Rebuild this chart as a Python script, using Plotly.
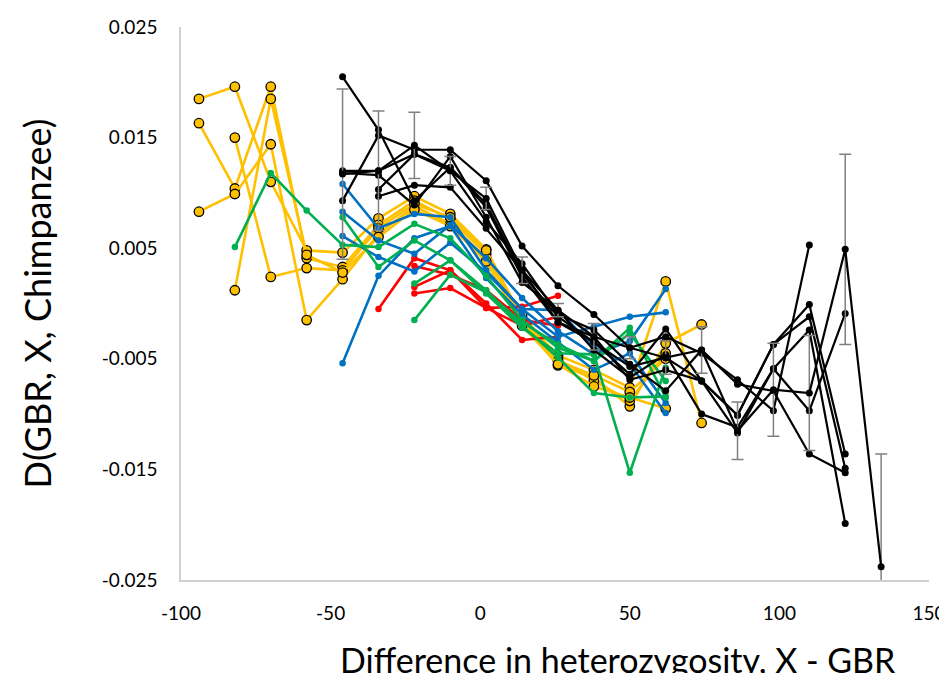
import plotly.graph_objects as go

N = None
# bin centres (difference in heterozygosity, X - GBR)
x_bins = [-94, -82, -70, -58, -46, -34, -22, -10, 2, 14, 26, 38, 50, 62, 74, 86, 98, 110, 122, 134]

yellow_series = [
    [0.0185, 0.0196, 0.0110, 0.0048, 0.0046, 0.0077, 0.0097, 0.0081, 0.0049, -0.0013, -0.0047, -0.0060, -0.0076, 0.0020, -0.0108, N, N, N, N, N],
    [0.0163, 0.0104, 0.0196, 0.0041, 0.0033, 0.0071, 0.0093, 0.0076, 0.0045, -0.0017, -0.0056, -0.0067, -0.0093, -0.0036, -0.0019, N, N, N, N, N],
    [0.0083, 0.0099, 0.0144, -0.0015, 0.0022, 0.0063, 0.0088, 0.0072, 0.0041, -0.0010, -0.0050, -0.0070, -0.0088, -0.0045, N, N, N, N, N, N],
    [N, 0.0150, 0.0024, 0.0032, 0.0030, 0.0068, 0.0090, 0.0078, 0.0048, -0.0015, -0.0052, -0.0065, -0.0080, -0.0050, N, N, N, N, N, N],
    [N, 0.0012, 0.0185, 0.0044, 0.0028, 0.0060, 0.0085, 0.0070, 0.0038, -0.0020, -0.0055, -0.0075, -0.0085, -0.0095, N, N, N, N, N, N],
]

red_series = [
    [N, N, N, N, N, -0.0005, 0.0041, 0.0030, -0.0004, -0.0003, 0.0007, N, N, N, N, N, N, N, N, N],
    [N, N, N, N, N, N, 0.0034, 0.0026, 0.0012, -0.0015, -0.0020, N, N, N, N, N, N, N, N, N],
    [N, N, N, N, N, N, 0.0015, 0.0030, 0.0000, -0.0033, -0.0030, N, N, N, N, N, N, N, N, N],
    [N, N, N, N, N, N, 0.0009, 0.0014, -0.0004, -0.0020, -0.0012, N, N, N, N, N, N, N, N, N],
]

blue_series = [
    [N, N, N, N, 0.0108, 0.0068, 0.0081, 0.0078, 0.0030, -0.0005, -0.0030, -0.0021, -0.0012, -0.0008, N, N, N, N, N, N],
    [N, N, N, N, 0.0083, 0.0057, 0.0045, 0.0071, 0.0041, 0.0005, -0.0025, -0.0046, -0.0034, 0.0013, N, N, N, N, N, N],
    [N, N, N, N, -0.0054, 0.0025, 0.0059, 0.0070, 0.0023, -0.0010, -0.0035, -0.0060, -0.0045, -0.0090, N, N, N, N, N, N],
    [N, N, N, N, 0.0061, 0.0042, 0.0029, 0.0055, 0.0028, -0.0005, -0.0006, -0.0040, -0.0055, -0.0099, N, N, N, N, N, N],
]

green_series = [
    [N, 0.0051, 0.0118, 0.0084, 0.0053, 0.0051, 0.0072, 0.0059, 0.0025, -0.0015, -0.0040, -0.0052, -0.0022, -0.0085, N, N, N, N, N, N],
    [N, N, N, N, 0.0078, 0.0033, 0.0057, 0.0039, 0.0012, -0.0020, -0.0049, -0.0081, -0.0085, -0.0084, N, N, N, N, N, N],
    [N, N, N, N, N, N, 0.0018, 0.0039, 0.0009, -0.0022, -0.0045, -0.0046, -0.0153, -0.0058, N, N, N, N, N, N],
    [N, N, N, N, N, N, -0.0015, 0.0026, 0.0010, -0.0017, -0.0037, -0.0052, -0.0027, -0.0070, N, N, N, N, N, N],
]

black_series = [
    [N, N, N, N, 0.0205, 0.0157, 0.0093, 0.0123, 0.0087, 0.0024, -0.0017, -0.0035, -0.0064, -0.0023, -0.0070, -0.0101, -0.0037, -0.0012, -0.0149, N],
    [N, N, N, N, 0.0093, 0.0152, 0.0139, 0.0139, 0.0111, 0.0052, 0.0016, -0.0010, -0.0040, -0.0030, -0.0045, -0.0069, -0.0097, 0.0053, N, N],
    [N, N, N, N, 0.0118, 0.0116, 0.0089, 0.0133, 0.0078, 0.0019, -0.0006, -0.0042, -0.0067, -0.0046, -0.0100, -0.0112, -0.0059, -0.0024, -0.0199, N],
    [N, N, N, N, N, 0.0103, 0.0135, 0.0120, 0.0074, 0.0036, -0.0010, -0.0024, -0.0055, -0.0079, -0.0042, -0.0073, -0.0079, -0.0136, -0.0153, N],
    [N, N, N, N, N, 0.0097, 0.0107, 0.0105, 0.0068, 0.0030, -0.0017, -0.0030, -0.0069, -0.0060, -0.0070, -0.0117, -0.0059, -0.0097, -0.0009, N],
    [N, N, N, N, 0.0120, 0.0120, 0.0135, 0.0123, 0.0090, 0.0027, -0.0012, -0.0035, -0.0057, -0.0049, -0.0070, -0.0101, -0.0037, -0.0001, -0.0136, N],
]

# black series with error bars
err_series = [N, N, N, N, 0.0117, 0.0120, 0.0143, 0.0120, 0.0095, 0.0030, -0.0006, -0.0030, -0.0040, -0.0049, -0.0042, -0.0115, -0.0078, -0.0081, 0.0049, -0.0238]
err_values = [N, N, N, N, 0.0077, 0.0054, 0.0030, 0.0013, 0.0010, 0.0012, 0.0006, 0.0012, 0.0010, 0.0015, 0.0021, 0.0026, 0.0042, 0.0052, 0.0086, 0.0102]

y_ticks = [0.025, 0.015, 0.005, -0.005, -0.015, -0.025]
y_tick_text = ["0.025", "0.015", "0.005", "-0.005", "-0.015", "-0.025"]
x_ticks = [-100, -50, 0, 50, 100, 150]
x_tick_text = ["-100", "-50", "0", "50", "100", "150"]

FONT = "Lato, 'Liberation Sans', sans-serif"

fig = go.Figure()

def add(series, color, lw, msize, outline=None):
    for ys in series:
        fig.add_trace(go.Scatter(
            x=x_bins, y=ys, mode="lines+markers",
            line=dict(color=color, width=lw),
            marker=dict(color=color, size=msize,
                        line=dict(color=outline or color, width=1.3 if outline else 0)),
            connectgaps=False, hoverinfo="skip"))

add(yellow_series, "#FFC000", 2.6, 9.5, outline="#000000")
add(red_series, "#FF0000", 2.6, 6.5)
add(blue_series, "#0070C0", 2.6, 6.5)
add(green_series, "#00B050", 2.6, 6.5)
add(black_series, "#000000", 2.2, 7)

fig.add_trace(go.Scatter(
    x=x_bins, y=err_series, mode="lines+markers",
    line=dict(color="#000000", width=2.2),
    marker=dict(color="#000000", size=7),
    error_y=dict(type="data", array=err_values, visible=True,
                 color="#808080", thickness=1.5, width=6),
    hoverinfo="skip"))

# page has an 8px body margin: figure is offset by (8, 8)
PLOT_W = 748
PLOT_H = 553
fig.update_layout(
    width=939, height=665,
    margin=dict(l=173, r=18, t=19, b=93),
    paper_bgcolor="white", plot_bgcolor="white",
    showlegend=False,
    font=dict(family=FONT, size=19, color="#000000"),
    xaxis=dict(range=[-100, 150], tickvals=x_ticks, ticktext=x_tick_text,
               showgrid=False, zeroline=False, showline=True, automargin=False,
               linecolor="#d0d0d0", linewidth=1.5, ticks="",
               ticklabelstandoff=15, tickfont=dict(size=19)),
    yaxis=dict(range=[-0.025, 0.025], tickvals=y_ticks, ticktext=y_tick_text,
               showgrid=False, zeroline=False, showline=True, automargin=False,
               linecolor="#d0d0d0", linewidth=1.5, ticks="",
               ticklabelstandoff=18, tickfont=dict(size=19)),
    annotations=[
        dict(text="Difference in heterozygosity, X - GBR", xref="paper", yref="paper",
             x=(618 - 181) / PLOT_W, y=-(659 - 580) / PLOT_H, xanchor="center", yanchor="middle",
             showarrow=False, font=dict(size=34, family=FONT)),
        dict(text="D(GBR, X, Chimpanzee)", xref="paper", yref="paper",
             x=(36 - 181) / PLOT_W, y=0.5, xanchor="center", yanchor="middle",
             textangle=-90, showarrow=False, font=dict(size=36, family=FONT)),
    ],
)

fig.write_html("out.html")
